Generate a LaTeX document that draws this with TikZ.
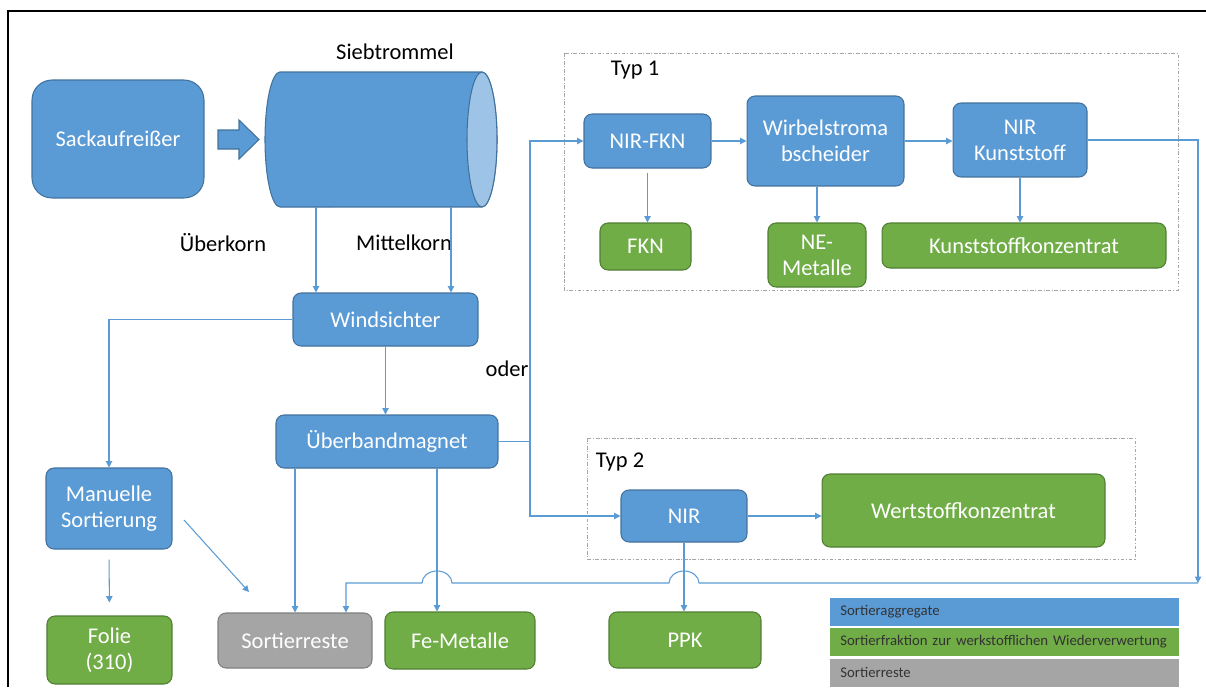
\documentclass[tikz,border=0pt]{standalone}
\usepackage{fontspec}
\setmainfont{Carlito}
\usetikzlibrary{arrows.meta,calc,positioning}

\definecolor{aggblue}{HTML}{5B9BD5}
\definecolor{aggline}{HTML}{41719C}
\definecolor{fracgreen}{HTML}{70AD47}
\definecolor{fracline}{HTML}{507E32}
\definecolor{restgray}{HTML}{A5A5A5}
\definecolor{restline}{HTML}{7F7F7F}
\definecolor{capblue}{HTML}{9DC3E6}
\definecolor{flowblue}{HTML}{5B9BD5}

\tikzset{
  box/.style={rounded corners=0.16cm, inner sep=0pt, align=center, text=white,
    font=\fontsize{12.8}{14.8}\selectfont, line width=0.6pt},
  agg/.style={box, fill=aggblue, draw=aggline},
  frac/.style={box, fill=fracgreen, draw=fracline},
  rest/.style={box, fill=restgray, draw=restline},
  flow/.style={draw=flowblue, line width=0.6pt, -{Triangle[length=3.6pt,width=3.6pt]}},
  wire/.style={draw=flowblue, line width=0.6pt},
  typbox/.style={draw=gray!70, line width=0.5pt, dash pattern=on 2pt off 1pt on 0.6pt off 1pt},
  lbl/.style={font=\fontsize{12.8}{14.8}\selectfont, text=black},
  legendbar/.style={anchor=west, minimum height=0.56cm, text width=6.58cm, inner xsep=0.2cm,
    inner ysep=0pt, align=left, font=\fontsize{8.4}{10}\selectfont, text=black!80}
}

\begin{document}
\begin{tikzpicture}[x=0.02cm, y=-0.02cm]
    \useasboundingbox (0,0) rectangle (1206,687);
    \draw[line width=1.2pt] (8,687) -- (8,11) -- (1206,11);

    % Typ boxes
    \draw[typbox] (564,53) rectangle (1178,290);
    \draw[typbox] (587,438) rectangle (1135,559);
    \node[lbl] (typ1) at (635,70) {Typ 1};
    \node[lbl] (typ2) at (620,462) {Typ 2};

    % drum
    \filldraw[fill=aggblue, draw=aggline, line width=0.6pt] (280,72) -- (482,72)
        arc[start angle=90, end angle=-90, x radius=0.3cm, y radius=1.35cm] -- (280,207)
        arc[start angle=270, end angle=90, x radius=0.3cm, y radius=1.35cm] -- cycle;
    \filldraw[fill=capblue, draw=aggline, line width=0.6pt] (482,139.5) ellipse[x radius=0.3cm, y radius=1.35cm];
    \node[minimum width=4.64cm, minimum height=2.7cm, inner sep=0pt] (drum) at (381,139.5) {};
    \node[lbl] (drumlbl) at (395,52) {Siebtrommel};

    % units
    \node[agg, rounded corners=0.4cm, minimum width=3.44cm, minimum height=2.36cm] (sack) at (118,139) {Sackaufreißer};
    \node[agg, minimum width=3.7cm, minimum height=1.06cm] (wind) at (385.5,319.5) {Windsichter};
    \node[agg, minimum width=4.44cm, minimum height=1.06cm] (magnet) at (387,441.5) {Überbandmagnet};
    \node[agg, minimum width=2.52cm, minimum height=1.62cm] (manual) at (109,508.5) {Manuelle\\Sortierung};
    \node[agg, minimum width=2.54cm, minimum height=1.08cm] (nirfkn) at (647.5,141) {NIR-FKN};
    \node[agg, minimum width=3.14cm, minimum height=1.8cm] (wirbel) at (825.5,141) {Wirbelstroma\\bscheider};
    \node[agg, minimum width=2.68cm, minimum height=1.48cm] (nirk) at (1020,140) {NIR\\Kunststoff};
    \node[agg, minimum width=2.52cm, minimum height=1.04cm] (nir) at (684,516) {NIR};

    % fractions
    \node[frac, minimum width=2.5cm, minimum height=1.36cm] (folie) at (109.5,650) {Folie\\(310)};
    \node[rest, minimum width=3.08cm, minimum height=1.1cm] (sortrest) at (295,640.5) {Sortierreste};
    \node[frac, minimum width=3.0cm, minimum height=1.14cm] (fe) at (460,640.5) {Fe-Metalle};
    \node[frac, minimum width=3.04cm, minimum height=1.12cm] (ppk) at (685,640) {PPK};
    \node[frac, minimum width=5.66cm, minimum height=1.46cm] (wert) at (963.5,510.5) {Wertstoffkonzentrat};
    \node[frac, minimum width=1.82cm, minimum height=0.94cm] (fkn) at (645.5,246.5) {FKN};
    \node[frac, minimum width=1.96cm, minimum height=1.28cm] (ne) at (817,255) {NE-\\Metalle};
    \node[frac, minimum width=5.68cm, minimum height=0.9cm] (kk) at (1024,245.5) {Kunststoffkonzentrat};

    % legend
    \node[legendbar, fill=aggblue] (legagg) at (830,612) {Sortieraggregate};
    \node[legendbar, fill=fracgreen] (legfrac) at (830,642) {Sortierfraktion zur werkstofflichen Wiederverwertung};
    \node[legendbar, fill=restgray] (legrest) at (830,672.5) {Sortierreste};

    % labels
    \node[lbl] (ueber) at (223,243) {Überkorn};
    \node[lbl] (mittel) at (404,243) {Mittelkorn};
    \node[lbl] (oder) at (507,369) {oder};

    % block arrow
    \filldraw[fill=aggblue, draw=aggline, line width=0.6pt] (218,130) -- (239,130) -- (239,120)
        -- (259,139.5) -- (239,159) -- (239,149) -- (218,149) -- cycle;

    % flows
    \draw[flow] ([xshift=-1.3cm]drum.south) -- ([xshift=-1.3cm]drum.south |- wind.north);
    \draw[flow] ([xshift=1.4cm]drum.south) -- ([xshift=1.4cm]drum.south |- wind.north);
    \draw[flow] (wind.west) -| (manual.north);
    \draw[flow] (wind.south) -- (wind.south |- magnet.north);
    \draw[flow, shorten <=0.2cm, shorten >=0.26cm] (manual.south) -- (folie.north);
    \coordinate (diagA) at (184,520);
    \coordinate (diagB) at (249,592);
    \draw[flow] (diagA) -- (diagB);
    \draw[flow] (magnet.south -| sortrest.north) -- (sortrest.north);
    \coordinate (feIn) at ([xshift=-0.46cm]fe.north);
    \draw[flow] (feIn |- magnet.south) -- (feIn);

    \coordinate (split) at (530,441.5);
    \draw[wire] (magnet.east) -- (split);
    \draw[flow] (split) |- (nirfkn.west);
    \draw[flow] (split) |- (nir.west);

    \draw[flow] (nirfkn.east) -- (wirbel.west);
    \draw[flow] (wirbel.east) -- (wirbel.east -| nirk.west);
    \draw[flow, shorten <=0.08cm] (nirfkn.south) -- (nirfkn.south |- fkn.north);
    \draw[flow] (wirbel.south -| ne.north) -- (ne.north);
    \draw[flow] (nirk.south) -- (nirk.south |- kk.north);

    \draw[flow] (nir.east) -- (nir.east -| wert.west);
    \draw[flow] (nir.south) -- (nir.south |- ppk.north);

    % return line with hops
    \coordinate (back) at (1198,583);
    \coordinate (hopA) at (back -| nir.south);
    \coordinate (hopB) at (back -| feIn);
    \coordinate (restIn) at ([xshift=1.02cm]sortrest.north);
    \draw[flow] (nirk.east) -| (back);
    \draw[flow] (back) -- ([xshift=0.3cm]hopA)
        arc[start angle=0, end angle=180, x radius=0.3cm, y radius=0.24cm]
        -- ([xshift=0.3cm]hopB)
        arc[start angle=0, end angle=180, x radius=0.3cm, y radius=0.24cm]
        -- (back -| restIn) -- (restIn);
\end{tikzpicture}
\end{document}
